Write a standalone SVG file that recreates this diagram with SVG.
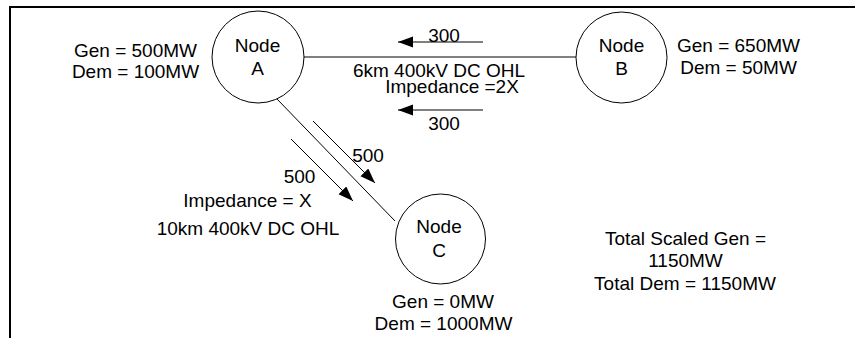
<svg xmlns="http://www.w3.org/2000/svg" width="855" height="338" viewBox="0 0 855 338">
<style>
text{font-family:"Liberation Sans",Arial,sans-serif;font-size:19px;fill:#000;text-anchor:middle}
.n{fill:#fff;stroke:#000;stroke-width:1}
.l{stroke:#000;stroke-width:1;fill:none}
.a{stroke:#000;stroke-width:1;fill:none;marker-end:url(#ah)}
.b{stroke:#000;stroke-width:2;fill:none}
</style>
<defs>
<marker id="ah" markerUnits="userSpaceOnUse" markerWidth="16" markerHeight="12" refX="15" refY="5.5" orient="auto">
<path d="M0,0 L15,5.5 L0,11 z" fill="#000"/>
</marker>
</defs>
<path class="b" d="M10,338 V7 H855"/>
<g id="connectors">
<line class="l" x1="303" y1="57" x2="577" y2="57"/>
<line class="l" x1="277" y1="99" x2="395" y2="221"/>
<line class="a" x1="483" y1="42" x2="398" y2="42"/>
<line class="a" x1="483" y1="110" x2="398" y2="110"/>
<line class="a" x1="313" y1="121" x2="375" y2="183"/>
<line class="a" x1="291" y1="139" x2="353" y2="201"/>
<text x="444" y="42">300</text>
<text x="444" y="130">300</text>
<text x="439" y="77">6km 400kV DC OHL</text>
<text x="452" y="93">Impedance =2X</text>
<text x="368" y="162">500</text>
<text x="299.5" y="183">500</text>
<text x="247.5" y="207">Impedance = X</text>
<text x="248" y="235">10km 400kV DC OHL</text>
</g>
<g id="nodeA">
<circle class="n" cx="258" cy="57" r="46"/>
<text x="257.5" y="52">Node</text>
<text x="257.5" y="75">A</text>
<text x="135.5" y="57">Gen = 500MW</text>
<text x="135.5" y="78">Dem = 100MW</text>
</g>
<g id="nodeB">
<circle class="n" cx="621.5" cy="57.5" r="45.5"/>
<text x="621.5" y="52">Node</text>
<text x="621.5" y="75">B</text>
<text x="738.5" y="52">Gen = 650MW</text>
<text x="738.5" y="74">Dem = 50MW</text>
</g>
<g id="nodeC">
<circle class="n" cx="440.5" cy="239" r="45"/>
<text x="439" y="233">Node</text>
<text x="439" y="257">C</text>
<text x="443" y="308">Gen = 0MW</text>
<text x="443.5" y="330">Dem = 1000MW</text>
</g>
<g id="totals">
<text x="685.5" y="245">Total Scaled Gen =</text>
<text x="685.5" y="267">1150MW</text>
<text x="685" y="290">Total Dem = 1150MW</text>
</g>
</svg>
